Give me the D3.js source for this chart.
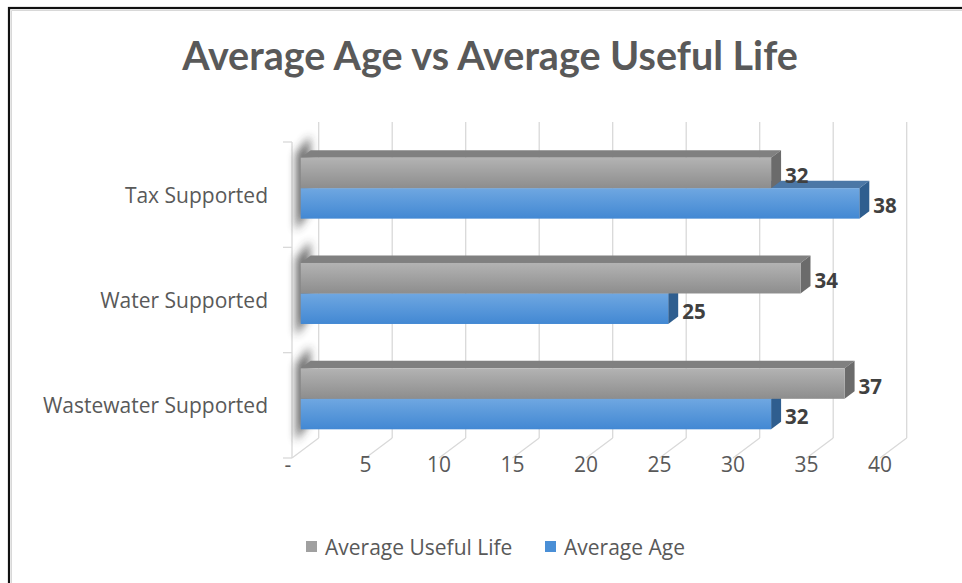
<!DOCTYPE html>
<html>
<head>
<meta charset="utf-8">
<script src="https://cdn.jsdelivr.net/npm/d3@7"></script>
<style>
  html, body { margin: 0; padding: 0; background: #fff; overflow: hidden; }
  svg { display: block; }
  text { font-family: "Open Sans", Lato, sans-serif; }
  text.chart-title { font-family: Lato, "Open Sans", sans-serif; }
</style>
</head>
<body>
<svg id="chart" width="962" height="583"></svg>
<script>
// Chart data
const categories = ["Tax Supported", "Water Supported", "Wastewater Supported"];
const seriesNames = ["Average Useful Life", "Average Age"];
const usefulLife = [32, 34, 37];
const averageAge = [38, 25, 32];
const tickValues = [0, 5, 10, 15, 20, 25, 30, 35, 40];
const tickLabels = ["-", "5", "10", "15", "20", "25", "30", "35", "40"];
const title = "Average Age vs Average Useful Life";

const svg = d3.select("#chart");

// chart frame (continues past the right and bottom edges)
svg.append("rect").attr("x", 9).attr("y", 8).attr("width", 1400).attr("height", 1000)
  .attr("fill", "#fff").attr("stroke", "#111").attr("stroke-width", 2.2);
svg.append("path").attr("d", "M11.5,600V10.5H1400").attr("fill", "none")
  .attr("stroke", "#d8d8d8").attr("stroke-width", 1);

// 3D projection: value scale on the front plane, depth adds an oblique offset
const x = d3.scaleLinear().domain([0, 40]).range([292, 880]);
const y = d3.scaleBand().domain(categories).range([142, 458]).paddingInner(0).paddingOuter(0);
const yInner = d3.scaleBand().domain(seriesNames).range([0, y.bandwidth()]).paddingInner(0).paddingOuter(0.727);
const DX = 26.7, DY = -20;             // full floor depth
const off = f => [DX * f, DY * f];
const barF0 = 0.326, barF1 = 0.70;     // bar depth range

const grid = svg.append("g").attr("stroke", "#d9d9d9").attr("stroke-width", 1.3).attr("fill", "none");
// back wall gridlines + floor lines
tickValues.forEach(v => {
  const bx = x(v) + DX, by0 = y.range()[0] + DY, by1 = y.range()[1] + DY;
  grid.append("line").attr("x1", bx).attr("x2", bx).attr("y1", by0).attr("y2", by1);
  grid.append("line").attr("x1", bx).attr("y1", by1).attr("x2", x(v)).attr("y2", y.range()[1]);
});
// left wall front edge and ticks
grid.append("line").attr("x1", x(0)).attr("x2", x(0)).attr("y1", y.range()[0]).attr("y2", y.range()[1]);
const catEdges = categories.map(c => y(c)).concat([y.range()[1]]);
catEdges.forEach(e => {
  grid.append("line").attr("x1", x(0) - 9).attr("x2", x(0)).attr("y1", e).attr("y2", e);
});

// defs: gradients and blur
const defs = svg.append("defs");
function grad(id, c0, c1) {
  const g = defs.append("linearGradient").attr("id", id).attr("x1", 0).attr("y1", 0).attr("x2", 0).attr("y2", 1);
  g.append("stop").attr("offset", "0%").attr("stop-color", c0);
  g.append("stop").attr("offset", "100%").attr("stop-color", c1);
}
grad("gGray", "#b3b3b3", "#8d8d8d");
grad("gBlue", "#6fa7e1", "#4288d3");
defs.append("filter").attr("id", "soft").attr("x", "-100%").attr("y", "-50%").attr("width", "300%").attr("height", "200%")
  .append("feGaussianBlur").attr("stdDeviation", 4);

const style = {
  "Average Useful Life": { front: "url(#gGray)", top: "#808080", end: "#6b6b6b", swatch: "#a0a0a0" },
  "Average Age": { front: "url(#gBlue)", top: "#4b77a6", end: "#2f5e8f", swatch: "#4a8fd6" }
};

const pts = a => "M" + a.map(p => p.join(",")).join("L") + "Z";

// soft shadows on the left wall
categories.forEach(c => {
  const top = y(c) + yInner(seriesNames[0]) + off(barF0)[1];
  const bot = y(c) + yInner(seriesNames[1]) + yInner.bandwidth() + off(barF0)[1];
  const xl = x(0) + 4, xr = x(0) + 18;
  svg.append("path")
    .attr("d", pts([[xl, top - 4], [xr, top - 22], [xr, bot - 8], [xl, bot + 12]]))
    .attr("fill", "#333").attr("opacity", 0.7).attr("filter", "url(#soft)");
});

const bars = svg.append("g");
const labels = svg.append("g");
categories.forEach((c, i) => {
  const vals = { "Average Useful Life": usefulLife[i], "Average Age": averageAge[i] };
  // lower bar first so the upper bar sits on it
  ["Average Age", "Average Useful Life"].forEach(s => {
    const v = vals[s];
    const [fx, fy] = off(barF0), [bx, by] = off(barF1);
    const y0 = y(c) + yInner(s) + fy, y1 = y0 + yInner.bandwidth();
    const xa = x(0) + fx, xb = x(v) + fx;
    const st = style[s];
    // top face
    bars.append("path").attr("d", pts([[xa, y0], [xa + (bx - fx), y0 + (by - fy)], [xb + (bx - fx), y0 + (by - fy)], [xb, y0]]))
      .attr("fill", st.top);
    // end face
    bars.append("path").attr("d", pts([[xb, y0], [xb + (bx - fx), y0 + (by - fy)], [xb + (bx - fx), y1 + (by - fy)], [xb, y1]]))
      .attr("fill", st.end);
    // front face
    bars.append("rect").attr("x", xa).attr("y", y0).attr("width", xb - xa).attr("height", y1 - y0)
      .attr("fill", st.front);
    labels.append("text").attr("x", xb + 14).attr("y", (y0 + y1) / 2 + 2)
      .attr("dominant-baseline", "central").attr("font-size", 20.5).attr("font-weight", 700)
      .attr("fill", "#404040").text(v);
  });
});

// category labels
svg.append("g").selectAll("text").data(categories).join("text")
  .attr("x", 268).attr("y", c => y(c) + y.bandwidth() / 2)
  .attr("text-anchor", "end").attr("dominant-baseline", "central")
  .attr("font-size", 21).attr("fill", "#595959").text(c => c);

// value axis labels
svg.append("g").selectAll("text").data(tickValues).join("text")
  .attr("x", (v, i) => x(v) + (i === 0 ? -4 : 0)).attr("y", 464)
  .attr("text-anchor", "middle").attr("dominant-baseline", "central")
  .attr("font-size", 21).attr("fill", "#595959").text((v, i) => tickLabels[i]);

// title
svg.append("text").attr("class", "chart-title").attr("x", 490).attr("y", 70).attr("text-anchor", "middle")
  .attr("font-size", 39.5).attr("font-weight", 700).attr("fill", "#595959").text(title);

// legend
const lg = svg.append("g").attr("transform", "translate(306,547)");
const legendX = [0, 239];
seriesNames.forEach((s, i) => {
  const g = lg.append("g").attr("transform", `translate(${legendX[i]},0)`);
  g.append("rect").attr("x", 0).attr("y", -6).attr("width", 11).attr("height", 11).attr("fill", style[s].swatch);
  g.append("text").attr("x", 19).attr("y", 0).attr("dominant-baseline", "central")
    .attr("font-size", 21).attr("fill", "#595959").text(s);
});
</script>
</body>
</html>
